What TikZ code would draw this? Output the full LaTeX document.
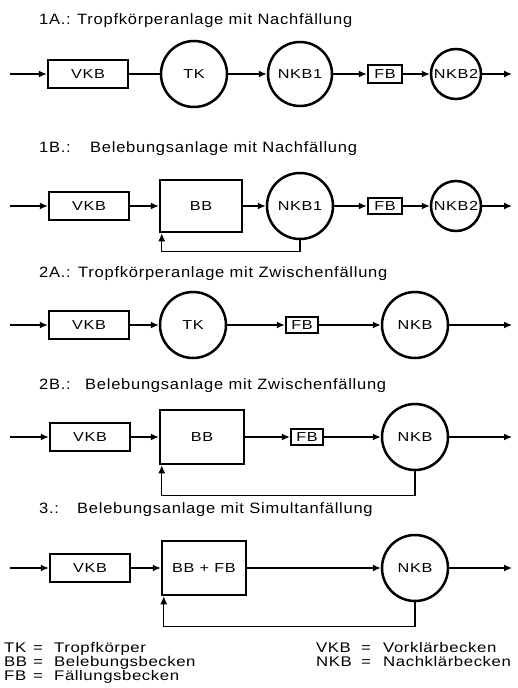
\documentclass[tikz,border=0pt]{standalone}
\usepackage{fontspec}
\setmainfont{Liberation Sans}
\newfontfamily\diafont[FakeStretch=1.25,LetterSpace=5]{Liberation Sans}
\newfontfamily\legfont[FakeStretch=1.2,LetterSpace=4]{Liberation Sans}
\newfontfamily\titfont[FakeStretch=1.1,LetterSpace=5]{Liberation Sans}
\usetikzlibrary{arrows.meta,calc}
\begin{document}
\begin{tikzpicture}[x=1pt,y=-1pt,
  unit/.style={draw,line width=2.5pt,inner sep=0pt,font=\diafont\fontsize{13}{15}\selectfont},
  tank/.style={unit,rectangle},
  basin/.style={unit,circle},
  flow/.style={line width=1.3pt,-{Latex[length=8pt,width=7pt]}},
  link/.style={line width=1.3pt},
  rowtitle/.style={anchor=base west,inner sep=0pt,font=\titfont\fontsize{15}{17}\selectfont},
  legend/.style={anchor=base west,inner sep=0pt,font=\legfont\fontsize{14}{15}\selectfont}]
\useasboundingbox (0,0) rectangle (518,688);

% ---------- 1A
\node[rowtitle] (t1a) at (39,24) {\makebox[38pt][l]{1A.:}Tropfkörperanlage mit Nachfällung};
\coordinate (i1a) at (10,74);
\node[tank,minimum width=80pt,minimum height=28pt] (v1a) at (88,74) {VKB};
\node[basin,minimum size=66pt] (tk1a) at (194,74) {TK};
\node[basin,minimum size=64pt] (n1a) at (300,74) {NKB1};
\node[tank,minimum width=34pt,minimum height=18pt] (f1a) at (385,74) {FB};
\node[basin,minimum size=50pt] (m1a) at (456,74) {NKB2};
\coordinate (o1a) at (512,74);
\draw[flow] (i1a) -- (v1a);
\draw[link] (v1a) -- (tk1a);
\draw[flow] (tk1a) -- (n1a);
\draw[flow] (n1a) -- (f1a);
\draw[flow] (f1a) -- (m1a);
\draw[flow] (m1a) -- (o1a);

% ---------- 1B
\node[rowtitle] (t1b) at (39,152) {\makebox[51pt][l]{1B.:}Belebungsanlage mit Nachfällung};
\coordinate (i1b) at (10,206);
\node[tank,minimum width=80pt,minimum height=28pt] (v1b) at (89,206) {VKB};
\node[tank,minimum width=82pt,minimum height=52pt] (b1b) at (201,206) {BB};
\node[basin,minimum size=66pt] (n1b) at (300,206) {NKB1};
\node[tank,minimum width=34pt,minimum height=16pt] (f1b) at (385,206) {FB};
\node[basin,minimum size=50pt] (m1b) at (456,206) {NKB2};
\coordinate (o1b) at (512,206);
\coordinate (r1b) at ($(b1b.south west)+(3,0)$);
\draw[flow] (i1b) -- (v1b);
\draw[flow] (v1b) -- (b1b);
\draw[flow] (b1b) -- (n1b);
\draw[flow] (n1b) -- (f1b);
\draw[flow] (f1b) -- (m1b);
\draw[flow] (m1b) -- (o1b);
\draw[flow] (n1b.south) -- ++(0,11) -| (r1b);

% ---------- 2A
\node[rowtitle] (t2a) at (39,277) {\makebox[39pt][l]{2A.:}Tropfkörperanlage mit Zwischenfällung};
\coordinate (i2a) at (10,325);
\node[tank,minimum width=80pt,minimum height=28pt] (v2a) at (89,325) {VKB};
\node[basin,minimum size=66pt] (tk2a) at (193,325) {TK};
\node[tank,minimum width=32pt,minimum height=16pt] (f2a) at (302,325) {FB};
\node[basin,minimum size=66pt] (n2a) at (415,325) {NKB};
\coordinate (o2a) at (512,325);
\draw[flow] (i2a) -- (v2a);
\draw[flow] (v2a) -- (tk2a);
\draw[flow] (tk2a) -- (f2a);
\draw[flow] (f2a) -- (n2a);
\draw[flow] (n2a) -- (o2a);

% ---------- 2B
\node[rowtitle] (t2b) at (39,389) {\makebox[46pt][l]{2B.:}Belebungsanlage mit Zwischenfällung};
\coordinate (i2b) at (10,437);
\node[tank,minimum width=80pt,minimum height=28pt] (v2b) at (90,437) {VKB};
\node[tank,minimum width=84pt,minimum height=54pt] (b2b) at (202,437) {BB};
\node[tank,minimum width=32pt,minimum height=16pt] (f2b) at (307,437) {FB};
\node[basin,minimum size=66pt] (n2b) at (415,437) {NKB};
\coordinate (o2b) at (512,437);
\coordinate (r2b) at ($(b2b.south west)+(3,0)$);
\draw[flow] (i2b) -- (v2b);
\draw[flow] (v2b) -- (b2b);
\draw[flow] (b2b) -- (f2b);
\draw[flow] (f2b) -- (n2b);
\draw[flow] (n2b) -- (o2b);
\draw[flow] (n2b.south) -- ++(0,24) -| (r2b);

% ---------- 3
\node[rowtitle] (t3) at (39,513) {\makebox[38pt][l]{3.:}Belebungsanlage mit Simultanfällung};
\coordinate (i3) at (10,568);
\node[tank,minimum width=80pt,minimum height=28pt] (v3) at (90,568) {VKB};
\node[tank,minimum width=84pt,minimum height=54pt] (b3) at (204,568) {BB + FB};
\node[basin,minimum size=66pt] (n3) at (415,568) {NKB};
\coordinate (o3) at (512,568);
\coordinate (r3) at ($(b3.south west)+(3,0)$);
\draw[flow] (i3) -- (v3);
\draw[flow] (v3) -- (b3);
\draw[flow] (b3) -- (n3);
\draw[flow] (n3) -- (o3);
\draw[flow] (n3.south) -- ++(0,24) -| (r3);

% ---------- legend
\node[legend] (la1) at (4,652) {TK};
\node[legend] (le1) at (33,652) {=};
\node[legend] (ld1) at (54,652) {Tropfkörper};
\node[legend] (la2) at (4,666) {BB};
\node[legend] (le2) at (33,666) {=};
\node[legend] (ld2) at (54,666) {Belebungsbecken};
\node[legend] (la3) at (4,680) {FB};
\node[legend] (le3) at (33,680) {=};
\node[legend] (ld3) at (54,680) {Fällungsbecken};
\node[legend] (la4) at (316,652) {VKB};
\node[legend] (le4) at (361,652) {=};
\node[legend] (ld4) at (383,652) {Vorklärbecken};
\node[legend] (la5) at (316,666) {NKB};
\node[legend] (le5) at (361,666) {=};
\node[legend] (ld5) at (383,666) {Nachklärbecken};
\end{tikzpicture}
\end{document}
